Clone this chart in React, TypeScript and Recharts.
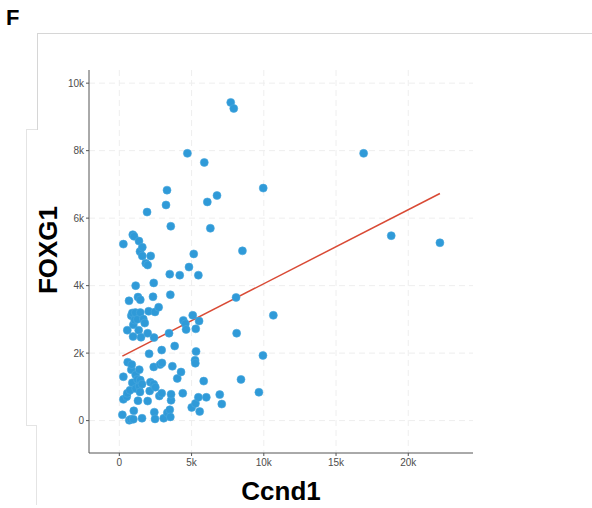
import { ScatterChart, Scatter, XAxis, YAxis, CartesianGrid, ReferenceLine, Label } from "recharts";

// Ccnd1 (x) and FOXG1 (y) expression per sample
const ccnd1 = [
  210, 280, 280, 280, 510, 550, 550, 580, 670, 690,
  740, 790, 830, 830, 860, 900, 900, 930, 950, 970,
  970, 1000, 1020, 1060, 1110, 1130, 1130, 1130, 1250, 1250,
  1290, 1290, 1340, 1360, 1380, 1380, 1430, 1430, 1450, 1450,
  1450, 1500, 1570, 1570, 1590, 1590, 1660, 1760, 1830, 1920,
  1960, 1960, 1960, 2030, 2060, 2100, 2150, 2170, 2330, 2380,
  2380, 2380, 2400, 2420, 2470, 2470, 2490, 2720, 2770, 2820,
  2930, 2930, 2950, 3070, 3230, 3300, 3320, 3440, 3490, 3490,
  3530, 3530, 3560, 3580, 3580, 3670, 3830, 4010, 4180, 4270,
  4390, 4430, 4570, 4620, 4710, 4820, 5010, 5080, 5150, 5240,
  5260, 5270, 5290, 5310, 5470, 5470, 5520, 5560, 5840, 5880,
  6020, 6090, 6300, 6760, 6950, 7090, 7710, 7920, 8080, 8120,
  8420, 8520, 9660, 9940, 9960, 10660, 16910, 18820, 22190,
];
const foxg1 = [
  170, 630, 1300, 5230, 710, 810, 2680, 1730, 3550, 10,
  900, 40, 1510, 3110, 1660, 1120, 3190, 5510, 2490, 40,
  2840, 290, 5460, 2980, 3200, 950, 1360, 4000, 1220, 3000,
  590, 3660, 2680, 5320, 1020, 1510, 850, 5010, 1200, 3200,
  3580, 2470, 70, 1080, 4880, 5140, 3010, 2890, 4660, 6180,
  580, 2590, 4610, 3240, 1980, 880, 1140, 4880, 3670, 1080,
  1590, 4080, 2460, 250, 50, 3220, 990, 3360, 730, 1660,
  810, 2090, 1710, 70, 6390, 6830, 230, 2590, 320, 4340,
  110, 3730, 5760, 600, 780, 1610, 2210, 1250, 4310, 1440,
  810, 2970, 2870, 2700, 7920, 4550, 390, 3120, 4940, 1790,
  1700, 510, 2720, 2050, 4310, 690, 2950, 270, 1170, 7650,
  690, 6480, 5700, 6670, 770, 490, 9430, 9250, 3650, 2590,
  1220, 5030, 840, 1930, 6890, 3120, 7920, 5480, 5270,
];

// linear fit, endpoints at min and max Ccnd1
const fitCcnd1 = [210, 22190];
const fitFoxg1 = [1910, 6730];

const xTicks = [0, 5000, 10000, 15000, 20000];
const yTicks = [0, 2000, 4000, 6000, 8000, 10000];

const points = ccnd1.map((x, i) => ({ x, y: foxg1[i] }));
const fmt = (v: number) => (v === 0 ? "0" : `${v / 1000}k`);

const FONT = '"Liberation Sans", Arial, Helvetica, sans-serif';
const axisColor = "#555";

const Dot = (props: any) => (
  <circle cx={props.cx} cy={props.cy} r={4} fill="#2f9ad8" stroke="#4aa8de" strokeWidth={0.6} />
);

const line = (style: React.CSSProperties) => (
  <div style={{ position: "absolute", background: "#d6d6d6", ...style }} />
);

// grid only at the tick values, no lines on the panel edges
const scaleOf = (axis: any) => {
  const s = axis?.scale;
  if (typeof s === "function") return s;
  if (s && typeof s.map === "function") return (v: number) => s.map(v);
  return null;
};
const hGrid = (p: any) => {
  const s = scaleOf(p.yAxis);
  return s ? yTicks.map((t) => s(t)) : [];
};
const vGrid = (p: any) => {
  const s = scaleOf(p.xAxis);
  return s ? xTicks.map((t) => s(t)) : [];
};

export default function App() {
  return (
    <div
      style={{
        position: "absolute",
        left: 0,
        top: 0,
        width: 592,
        height: 508,
        background: "#fff",
        fontFamily: FONT,
        overflow: "hidden",
      }}
    >
      {/* panel frame left over from the figure */}
      {line({ left: 37, top: 33, width: 555, height: 1 })}
      {line({ left: 37, top: 33, width: 1, height: 97 })}
      {line({ left: 26, top: 129, width: 11, height: 1, background: "#e4e4e4" })}
      {line({ left: 26, top: 129, width: 1, height: 296, background: "#e4e4e4" })}
      {line({ left: 26, top: 425, width: 10, height: 1, background: "#e4e4e4" })}
      {line({ left: 36, top: 425, width: 1, height: 80, background: "#e4e4e4" })}

      <div style={{ position: "absolute", left: 6, top: 5, fontSize: 22, fontWeight: "bold", color: "#000" }}>F</div>

      <div style={{ position: "absolute", left: 0, top: 0 }}>
        <ScatterChart width={592} height={508} margin={{ top: 70, right: 119, bottom: 0, left: 0 }}>
          <CartesianGrid
            stroke="#eeeeee"
            strokeDasharray="6 4"
            horizontalCoordinatesGenerator={hGrid}
            verticalCoordinatesGenerator={vGrid}
          />
          <XAxis
            type="number"
            dataKey="x"
            domain={[-2100, 24480]}
            ticks={xTicks}
            tickFormatter={fmt}
            allowDataOverflow
            height={55}
            stroke={axisColor}
            tickSize={3}
            tickMargin={3}
            tick={{ fill: "#4d4d4d", fontSize: 10, fontFamily: FONT }}
          >
            <Label
              content={() => (
                <text x={281} y={500} textAnchor="middle" fontSize={26} fontWeight="bold" fill="#000" fontFamily={FONT}>
                  Ccnd1
                </text>
              )}
            />
          </XAxis>
          <YAxis
            type="number"
            dataKey="y"
            domain={[-960, 10390]}
            ticks={yTicks}
            tickFormatter={fmt}
            allowDataOverflow
            width={89}
            stroke={axisColor}
            tickSize={3}
            tickMargin={2}
            tick={{ fill: "#4d4d4d", fontSize: 10, fontFamily: FONT }}
          >
            <Label
              content={() => (
                <text
                  x={57}
                  y={250}
                  transform="rotate(-90, 57, 250)"
                  textAnchor="middle"
                  fontSize={26}
                  fontWeight="bold"
                  fill="#000"
                  fontFamily={FONT}
                >
                  FOXG1
                </text>
              )}
            />
          </YAxis>
          <Scatter data={points} shape={Dot} isAnimationActive={false} />
          <ReferenceLine
            segment={[
              { x: fitCcnd1[0], y: fitFoxg1[0] },
              { x: fitCcnd1[1], y: fitFoxg1[1] },
            ]}
            stroke="#d94a35"
            strokeWidth={1.5}
            ifOverflow="visible"
          />
        </ScatterChart>
      </div>
    </div>
  );
}
